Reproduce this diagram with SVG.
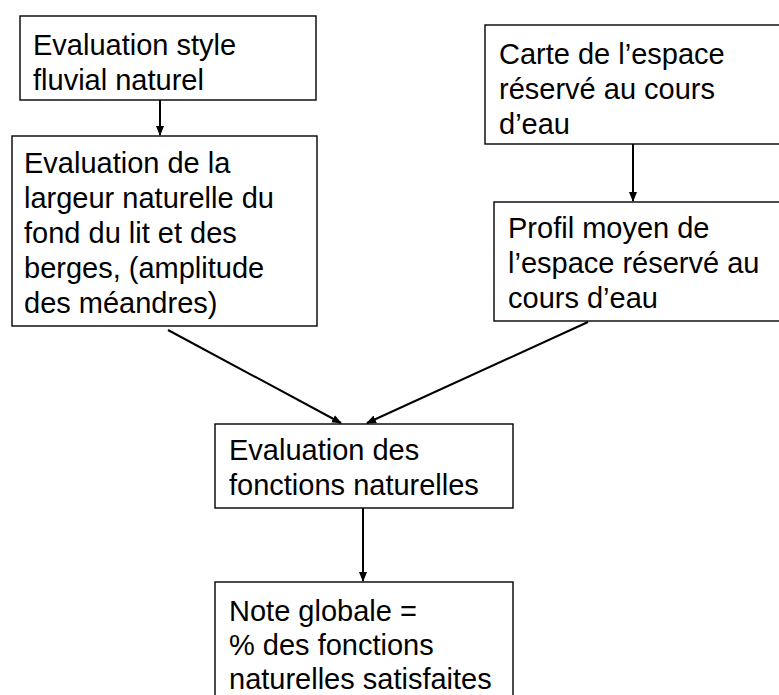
<svg xmlns="http://www.w3.org/2000/svg" width="779" height="695" viewBox="0 0 779 695">
<style>
.box{fill:#fff;stroke:#000;stroke-width:1.4}
.t{font-family:"Liberation Sans",Arial,sans-serif;font-size:29px;fill:#000}
.c{stroke:#000;stroke-width:2;fill:none;marker-end:url(#ah)}
</style>
<defs>
<marker id="ah" markerWidth="10" markerHeight="10" refX="9" refY="4" orient="auto" markerUnits="userSpaceOnUse" viewBox="0 0 10 8">
<path d="M0,0 L10,4 L0,8 Z" fill="#000"/>
</marker>
</defs>
<rect width="779" height="695" fill="#fff"/>
<g id="connectors">
<line class="c" x1="160" y1="100" x2="160" y2="135"/>
<line class="c" x1="633" y1="144" x2="633" y2="201"/>
<line class="c" x1="168" y1="330" x2="341" y2="423"/>
<line class="c" x1="588" y1="322" x2="367" y2="423"/>
<line class="c" x1="363" y1="508" x2="363" y2="581"/>
</g>
<g id="n1">
<rect class="box" x="20" y="16" width="296" height="84"/>
<text class="t" x="33" y="55">Evaluation style</text>
<text class="t" x="33" y="90">fluvial naturel</text>
</g>
<g id="n2">
<rect class="box" x="12" y="136" width="305" height="190"/>
<text class="t" x="24" y="173">Evaluation de la</text>
<text class="t" x="24" y="208">largeur naturelle du</text>
<text class="t" x="24" y="243">fond du lit et des</text>
<text class="t" x="24" y="278">berges, (amplitude</text>
<text class="t" x="24" y="313">des méandres)</text>
</g>
<g id="n3">
<rect class="box" x="485" y="25" width="320" height="119"/>
<text class="t" x="499" y="64">Carte de l’espace</text>
<text class="t" x="499" y="99">réservé au cours</text>
<text class="t" x="499" y="134">d’eau</text>
</g>
<g id="n4">
<rect class="box" x="494" y="202" width="320" height="119"/>
<text class="t" x="508" y="238">Profil moyen de</text>
<text class="t" x="508" y="273">l’espace réservé au</text>
<text class="t" x="508" y="308">cours d’eau</text>
</g>
<g id="n5">
<rect class="box" x="215" y="424" width="298" height="84"/>
<text class="t" x="229" y="460">Evaluation des</text>
<text class="t" x="229" y="495">fonctions naturelles</text>
</g>
<g id="n6">
<rect class="box" x="215" y="582" width="298" height="130"/>
<text class="t" x="229" y="621">Note globale =</text>
<text class="t" x="229" y="655">% des fonctions</text>
<text class="t" x="229" y="689">naturelles satisfaites</text>
</g>
</svg>
